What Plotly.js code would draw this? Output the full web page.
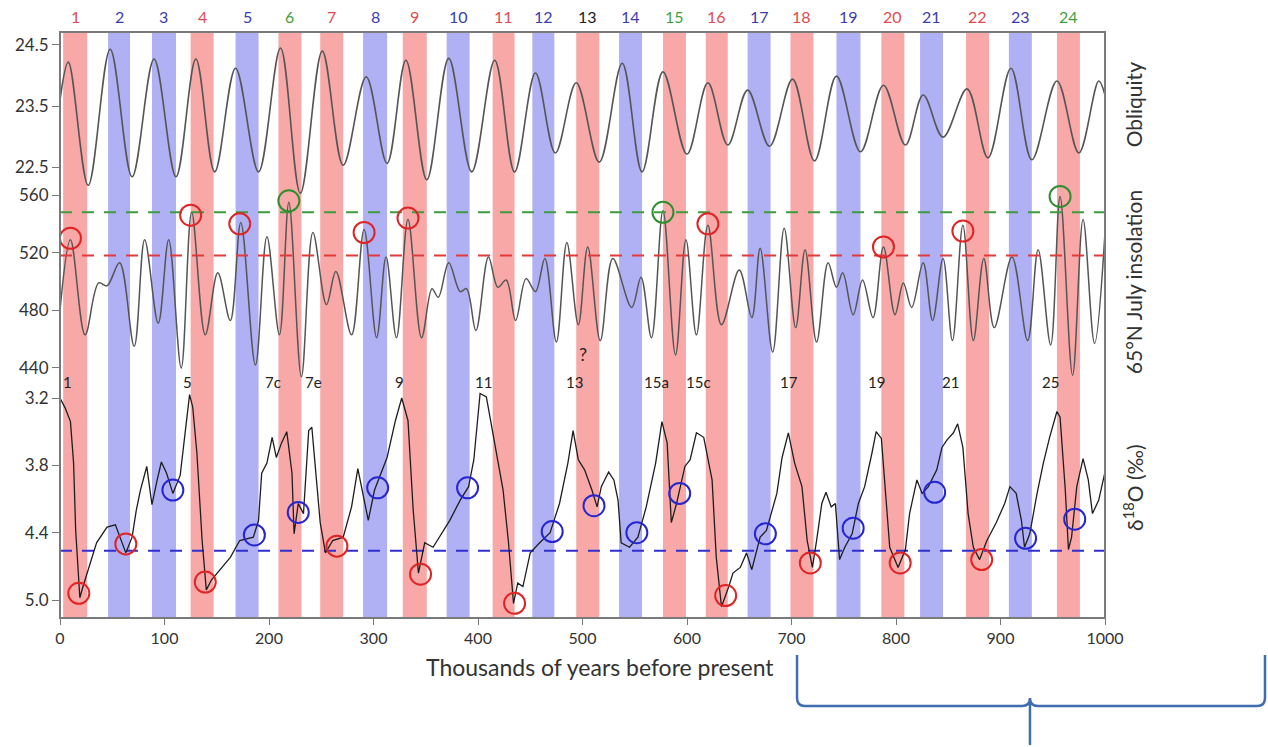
<!DOCTYPE html>
<html><head><meta charset="utf-8">
<script src="https://cdn.plot.ly/plotly-3.0.1.min.js"></script>
<style>html,body{margin:0;padding:0;background:#fff}#chart{width:1268px;height:747px}</style>
</head><body><div id="chart"></div>
<script>
// ---------- DATA ----------
// Stage bands (thousands of years BP)
const bandNumbers = ['1','2','3','4','5','6','7','8','9','10','11','12','13','14','15','16','17','18','19','20','21','22','23','24'];
const bandStart = [3,46,88,125,168,209,249,290,328,370,414,452,494,535,577,618,658,699,743,786,823,867,908,954];
const bandEnd   = [26,67,111,147,190,231,271,313,351,392,435,473,516,557,599,639,680,721,766,808,845,889,930,976];
const bandKind  = ['r','b','b','r','b','r','r','b','r','b','r','b','r','b','r','r','b','r','b','r','b','r','b','r'];
const numberKind= ['r','b','b','r','b','g','r','b','r','b','r','b','k','b','g','r','b','r','b','r','b','r','b','g'];

// Obliquity (degrees)
const oblX = [0,8,27,48,69,90,111,130,148,168,190,211,230,251,271,293,313,331,351,372,394,416,435,455,474,494,516,538,557,577,600,620,639,658,679,701,722,743,766,788,809,826,845,868,888,910,930,954,975,994,1000];
const oblY = [23.6,24.22,22.2,24.43,22.34,24.27,22.34,24.27,22.42,24.12,22.42,24.45,22.07,24.4,22.53,23.98,22.56,24.25,22.29,24.28,22.42,24.25,22.42,24.04,22.73,23.88,22.58,24.2,22.42,24.06,22.71,23.88,22.86,23.76,22.84,23.94,22.6,23.99,22.75,23.84,22.86,23.68,22.99,23.78,22.65,24.12,22.62,23.91,22.73,23.91,23.68];

// 65N July insolation (W/m2)
const insX = [0,10,24,37,45,57,71,81,94,104,116,126,139,151,163,173,187,198,210,219,231,242,255,264,279,291,303,312,322,333,346,356,362,372,383,389,398,410,419,427,436,446,455,464,475,485,496,505,517,529,547,556,566,577,589,599,609,620,633,650,662,670,682,693,704,713,724,735,743,749,759,768,778,788,799,807,815,826,835,845,854,864,874,884,894,911,926,936,948,957,969,979,990,1000];
const insY = [480,529,463,499,497,513,455,529,471,529,440,548,463,506,473,541,442,531,463,555,434,534,484,507,463,536,461,517,461,543,461,495,489,513,493,495,466,517,496,501,473,502,493,516,458,527,470,524,459,516,482,503,461,549,449,529,463,539,470,508,475,523,451,537,468,522,458,513,496,506,477,501,475,524,477,499,482,513,473,516,459,539,459,516,468,517,459,522,456,559,435,543,457,534];

// Benthic delta18O (per mil)
const d18X = [0,5,10,13,15,19,22,27,35,45,53,63,69,73,77,83,88,93,97,102,108,115,120,124,127,131,136,140,145,153,163,172,185,190,193,198,203,207,212,217,222,224,228,233,238,241,244,249,254,261,271,279,285,291,295,301,313,321,327,333,338,343,349,357,373,383,391,396,402,408,418,424,429,434,438,443,450,459,469,478,486,491,496,502,509,514,518,525,530,534,537,545,553,561,570,576,581,585,590,598,603,609,616,624,628,633,640,644,651,657,662,670,676,686,691,697,703,710,715,720,724,729,733,738,742,746,751,758,764,770,777,781,786,789,794,802,809,813,820,825,831,839,844,849,855,859,864,869,874,880,887,896,904,909,915,920,923,928,935,941,947,954,957,962,965,968,973,979,984,988,994,1000];
const d18Y = [3.20,3.29,3.41,3.78,4.38,4.98,4.88,4.73,4.49,4.35,4.33,4.58,4.44,4.20,4.02,3.81,4.15,3.93,3.77,3.87,4.05,3.89,3.49,3.17,3.28,3.69,4.47,4.91,4.82,4.73,4.62,4.47,4.44,4.29,3.87,3.78,3.55,3.73,3.60,3.50,3.87,4.41,4.14,4.23,3.49,3.46,3.78,4.31,4.58,4.47,4.44,4.17,3.83,4.11,4.29,4.02,3.73,3.40,3.20,3.40,4.20,4.76,4.49,4.53,4.29,4.11,3.99,3.75,3.16,3.19,3.73,4.02,4.47,5.03,4.85,4.88,4.58,4.49,4.40,4.14,3.78,3.49,3.75,3.84,4.02,4.17,3.99,3.86,3.93,4.11,4.49,4.53,4.44,4.17,3.78,3.41,3.60,4.31,4.14,3.81,3.75,3.51,3.55,3.93,4.62,5.06,4.88,4.76,4.71,4.58,4.73,4.44,4.38,4.05,3.73,3.51,3.78,3.99,4.47,4.71,4.47,4.14,4.04,4.17,4.14,4.64,4.53,4.41,4.14,3.99,3.69,3.50,3.56,3.93,4.53,4.71,4.55,4.23,3.93,4.05,3.99,3.84,3.64,3.57,3.51,3.43,3.64,4.23,4.53,4.64,4.47,4.31,4.14,3.99,4.05,4.29,4.53,4.41,4.05,3.78,3.55,3.32,3.37,4.02,4.55,4.44,3.99,3.74,3.93,4.23,4.11,3.86];

// Circled insolation maxima
const insCircX = [10,125,172,219,291,333,577,620,788,864,957];
const insCircY = [530,546,540,556,534,544,548,540,524,535,559];
const insCircKind = ['r','r','r','g','r','r','g','r','r','r','g'];

// Circled delta18O points
const d18RedX = [18,63,139,265,345,435,637,718,804,882];
const d18RedY = [4.94,4.50,4.84,4.52,4.77,5.03,4.96,4.67,4.67,4.64];
const d18BlueX = [108,186,228,304,390,471,511,552,593,675,759,837,924,971];
const d18BlueY = [4.02,4.42,4.22,4.00,4.00,4.39,4.16,4.40,4.05,4.41,4.36,4.04,4.45,4.28];

// Thresholds
const insGreenLevel = 548;
const insRedLevel = 518;
const d18BlueLevel = 4.56;

// MIS labels on delta18O panel
const misLabels = ['1','5','7c','7e','9','11','13','15a','15c','17','19','21','25'];
const misX = [7,122,204,243,325,405,492,571,611,698,781,852,948];

// Axis ticks
const xTicks = [0,100,200,300,400,500,600,700,800,900,1000];
const oblTicks = [22.5,23.5,24.5];
const insTicks = [440,480,520,560];
const d18Ticks = [3.2,3.8,4.4,5.0];

// ---------- STYLE ----------
const FONT = 'Lato, "Open Sans", sans-serif';
const bandFill = {r:'rgba(249,168,168,1)', b:'rgba(176,176,245,1)'};
const numCol = {r:'#e24a50', b:'#3c3cb0', g:'#3f9f3f', k:'#222222'};
const circCol = {r:'#e02424', b:'#2626d0', g:'#2e8e2e'};

const traces = [];
traces.push({x:oblX, y:oblY, yaxis:'y', mode:'lines', line:{shape:'spline', smoothing:1, color:'#555', width:1.6}, hoverinfo:'skip'});
traces.push({x:insX, y:insY, yaxis:'y2', mode:'lines', line:{shape:'spline', smoothing:1, color:'#555', width:1.5}, hoverinfo:'skip'});
traces.push({x:[0,1000], y:[insGreenLevel,insGreenLevel], yaxis:'y2', mode:'lines', line:{color:'#3c9c3c', width:2, dash:'12px,10px'}, hoverinfo:'skip'});
traces.push({x:[0,1000], y:[insRedLevel,insRedLevel], yaxis:'y2', mode:'lines', line:{color:'#e03a3a', width:2, dash:'12px,10px'}, hoverinfo:'skip'});
traces.push({x:insCircX, y:insCircY, yaxis:'y2', mode:'markers', cliponaxis:false,
  marker:{symbol:'circle-open', size:21, color:insCircKind.map(k=>circCol[k]), line:{width:2, color:insCircKind.map(k=>circCol[k])}}, hoverinfo:'skip'});
traces.push({x:[0,1000], y:[d18BlueLevel,d18BlueLevel], yaxis:'y3', mode:'lines', line:{color:'#2f2fcf', width:2, dash:'12px,10px'}, hoverinfo:'skip'});
traces.push({x:d18X, y:d18Y, yaxis:'y3', mode:'lines', line:{color:'#1e1e1e', width:1.3}, hoverinfo:'skip'});
traces.push({x:d18RedX, y:d18RedY, yaxis:'y3', mode:'markers', cliponaxis:false,
  marker:{symbol:'circle-open', size:21, color:circCol.r, line:{width:2, color:circCol.r}}, hoverinfo:'skip'});
traces.push({x:d18BlueX, y:d18BlueY, yaxis:'y3', mode:'markers', cliponaxis:false,
  marker:{symbol:'circle-open', size:21, color:circCol.b, line:{width:2, color:circCol.b}}, hoverinfo:'skip'});

const shapes = bandStart.map((s,i)=>({type:'rect', xref:'x', yref:'paper', x0:s, x1:bandEnd[i], y0:0, y1:1, fillcolor:bandFill[bandKind[i]], line:{width:0}, layer:'below'}));
shapes.push({type:'rect', xref:'paper', yref:'paper', x0:0, x1:1, y0:0, y1:1, line:{color:'#7a7a7a', width:2}, fillcolor:'rgba(0,0,0,0)'});
shapes.push({type:'path', xref:'paper', yref:'paper', line:{color:'#3f6db0', width:2.5},
  path:'M 0.7053,-0.0631 L 0.7053,-0.1365 Q 0.7053,-0.1502 0.7129,-0.1502 L 0.9206,-0.1502 Q 0.9282,-0.1502 0.9282,-0.1365 L 0.9282,-0.2167 M 0.9282,-0.1365 Q 0.9282,-0.1502 0.9359,-0.1502 L 1.1455,-0.1502 Q 1.1531,-0.1502 1.1531,-0.1365 L 1.1531,-0.0631'});

const annotations = [];
const ann = (o)=>annotations.push(Object.assign({showarrow:false, xanchor:'center', yanchor:'middle'}, o));
bandNumbers.forEach((t,i)=>ann({text:t, xref:'x', yref:'paper', x:(bandStart[i]+bandEnd[i])/2, y:1.0256, font:{family:FONT, size:16, color:numCol[numberKind[i]]}}));
misLabels.forEach((t,i)=>ann({text:t, xref:'x', yref:'paper', x:misX[i], y:0.4027, font:{family:FONT, size:15, color:'#222'}}));
ann({text:'?', xref:'x', yref:'paper', x:500, y:0.4505, font:{family:FONT, size:18, color:'#222'}});
ann({text:'Obliquity', xref:'paper', yref:'paper', x:1.0268, y:0.875, textangle:-90, font:{family:FONT, size:21, color:'#333'}});
ann({text:'65°N July insolation', xref:'paper', yref:'paper', x:1.0268, y:0.573, textangle:-90, font:{family:FONT, size:21, color:'#333'}});
ann({text:'δ<sup>18</sup>O (‰)', xref:'paper', yref:'paper', x:1.0268, y:0.222, textangle:-90, font:{family:FONT, size:21, color:'#333'}});
ann({text:'Thousands of years before present', xref:'paper', yref:'paper', x:0.517, y:-0.0836, font:{family:FONT, size:23, color:'#333'}});

const tickFont = {family:FONT, size:17, color:'#333'};
const yCommon = {ticks:'outside', ticklen:7, tickcolor:'#777', tickfont:tickFont, showgrid:false, zeroline:false, showline:false, anchor:'x'};
const layout = {
  width:1268, height:747, margin:{l:60, r:163, t:32, b:129},
  paper_bgcolor:'#fff', plot_bgcolor:'rgba(0,0,0,0)', showlegend:false,
  xaxis:{range:[0,1000], anchor:'y3', tickvals:xTicks, ticks:'outside', ticklen:6, tickcolor:'#777', tickfont:{family:FONT, size:16, color:'#333'}, showgrid:false, zeroline:false, showline:false},
  yaxis:Object.assign({domain:[0.7133,1], range:[21.959,24.713], tickvals:oblTicks, tickformat:'.1f'}, yCommon),
  yaxis2:Object.assign({domain:[0.3857,0.7474], range:[423.35,570.4], tickvals:insTicks}, yCommon),
  yaxis3:Object.assign({domain:[0,0.4744], range:[5.1604,2.683], tickvals:d18Ticks, tickformat:'.1f'}, yCommon),
  shapes:shapes, annotations:annotations
};
Plotly.newPlot('chart', traces, layout, {staticPlot:true, displayModeBar:false});
</script></body></html>
